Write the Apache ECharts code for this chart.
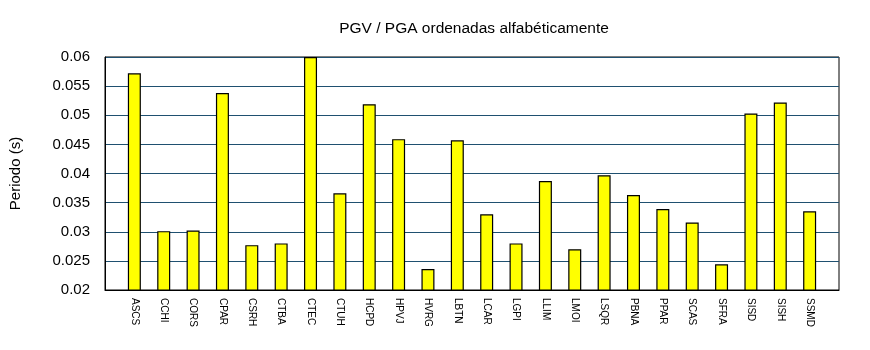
<!DOCTYPE html>
<html>
<head>
<meta charset="utf-8">
<script src="https://cdn.jsdelivr.net/npm/echarts@6/dist/echarts.min.js"></script>
<style>
  html, body { margin: 0; padding: 0; background: #fff; }
  #chart { width: 870px; height: 350px; }
</style>
</head>
<body>
<div id="chart"></div>
<script>
// Station codes, in alphabetical order
const stations = ['ASCS', 'CCHI', 'CORS', 'CPAR', 'CSRH', 'CTBA', 'CTEC', 'CTUH', 'HCPD', 'HPVJ',
  'HVRG', 'LBTN', 'LCAR', 'LGPI', 'LLIM', 'LMOI', 'LSQR', 'PBNA', 'PPAR', 'SCAS',
  'SFRA', 'SISD', 'SISH', 'SSMD'];

// PGV / PGA ratio per station (s)
const ratios = [0.0572, 0.0301, 0.0302, 0.0538, 0.0277, 0.0280, 0.0600, 0.0366, 0.0519, 0.0459,
  0.0236, 0.0457, 0.0330, 0.0280, 0.0387, 0.0270, 0.0397, 0.0363, 0.0339, 0.0316,
  0.0244, 0.0503, 0.0522, 0.0335];

const yMin = 0.02, yMax = 0.06, yStep = 0.005;

// Stations sit at positions 1..N on a numeric axis running from 0 to N+1
const points = ratios.map((v, i) => [i + 1, v]);

const font = '"Liberation Sans", Arial, sans-serif';
const chart = echarts.init(document.getElementById('chart'), null, { renderer: 'canvas' });

chart.setOption({
  animation: false,
  backgroundColor: '#ffffff',
  title: {
    text: 'PGV / PGA ordenadas alfabéticamente',
    left: 469, top: 16, textAlign: 'center',
    textStyle: { fontFamily: font, fontSize: 15.5, fontWeight: 'normal', color: '#000' }
  },
  grid: {
    left: 104, right: 31, top: 57, bottom: 60,
    show: true, borderColor: '#000', borderWidth: 1, backgroundColor: 'transparent'
  },
  xAxis: {
    type: 'value',
    min: 0, max: stations.length + 1, interval: 1,
    axisLine: { show: true, lineStyle: { color: '#000', width: 1 } },
    axisTick: { show: false },
    splitLine: { show: false },
    axisLabel: {
      rotate: -90, margin: 8,
      showMinLabel: false, showMaxLabel: false,
      fontFamily: font, fontSize: 10, color: '#000',
      formatter: v => stations[Math.round(v) - 1] || ''
    }
  },
  yAxis: {
    type: 'value',
    min: yMin, max: yMax, interval: yStep,
    name: 'Periodo (s)',
    nameLocation: 'middle',
    nameGap: 82,
    nameTextStyle: { fontFamily: font, fontSize: 15, color: '#000' },
    axisLine: { show: true, lineStyle: { color: '#000', width: 1 } },
    axisTick: { show: false },
    splitLine: { show: true, lineStyle: { color: '#1f5070', width: 1 } },
    axisLabel: {
      margin: 15,
      fontFamily: font, fontSize: 15, color: '#000',
      formatter: v => String(+v.toFixed(3))
    }
  },
  series: [{
    type: 'bar',
    data: points,
    barWidth: 13,
    itemStyle: { color: '#ffff00', borderColor: '#000', borderWidth: 1.2 }
  }]
});
</script>
</body>
</html>
